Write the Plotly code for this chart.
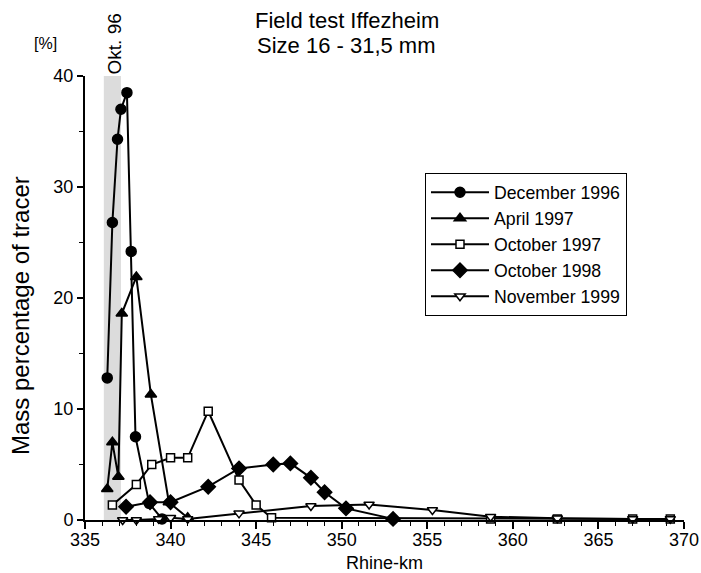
import plotly.graph_objects as go

# ---- data ----
dec96_km = [336.3, 336.6, 336.9, 337.1, 337.45, 337.7, 337.95, 338.75, 339.5]
dec96_val = [12.8, 26.8, 34.3, 37.0, 38.5, 24.2, 7.5, 1.5, 0.1]

apr97_km = [336.3, 336.6, 336.95, 337.15, 338.0, 338.85, 339.9, 341.0]
apr97_val = [2.8, 7.0, 3.9, 18.6, 21.9, 11.3, 1.6, 0.2]

oct97_km = [336.6, 338.0, 338.9, 340.0, 341.0, 342.2, 344.0, 345.0, 345.9, 358.7, 362.6, 367.0, 369.2]
oct97_val = [1.35, 3.2, 5.0, 5.6, 5.6, 9.8, 3.6, 1.35, 0.2, 0.1, 0.1, 0.1, 0.1]

oct98_km = [337.4, 338.8, 340.0, 342.2, 344.0, 346.0, 347.0, 348.2, 349.0, 350.25, 353.0]
oct98_val = [1.2, 1.6, 1.6, 3.0, 4.65, 5.0, 5.1, 3.8, 2.5, 1.05, 0.1]

nov99_km = [337.2, 338.0, 339.3, 340.0, 341.0, 344.0, 348.2, 351.6, 355.3, 358.7, 362.6, 367.0, 369.2]
nov99_val = [0.0, 0.0, 0.1, 0.2, 0.1, 0.6, 1.26, 1.4, 0.9, 0.3, 0.15, 0.1, 0.1]

series = [
    ("December 1996", dec96_km, dec96_val, "circle", "black", 10),
    ("April 1997", apr97_km, apr97_val, "triangle-up", "black", 10),
    ("October 1997", oct97_km, oct97_val, "square", "white", 8),
    ("October 1998", oct98_km, oct98_val, "diamond", "black", 11),
    ("November 1999", nov99_km, nov99_val, "triangle-down", "white", 9),
]

band_km = [336.1, 337.1]
title_lines = ["Field test Iffezheim", "Size 16 - 31,5 mm"]

fig = go.Figure()

# shaded "Okt. 96" band
fig.add_shape(type="rect", xref="x", yref="y", x0=band_km[0], x1=band_km[1],
              y0=0, y1=40, fillcolor="#dcdcdc", line_width=0, layer="below")

for name, xs, ys, sym, fill, size in series:
    fig.add_trace(go.Scatter(
        x=xs, y=ys, name=name, mode="lines+markers",
        line=dict(color="black", width=2),
        marker=dict(symbol=sym, size=size, color=fill,
                    line=dict(color="black", width=1.5)),
        cliponaxis=False,
    ))

# title (two lines)
fig.add_annotation(x=0.437, y=1.124, xref="paper", yref="paper", text=title_lines[0],
                   showarrow=False, xanchor="center", yanchor="middle",
                   font=dict(size=22, color="black"))
fig.add_annotation(x=0.437, y=1.068, xref="paper", yref="paper", text=title_lines[1],
                   showarrow=False, xanchor="center", yanchor="middle",
                   font=dict(size=22, color="black"))

# axis titles
fig.add_annotation(x=-0.108, y=0.46, xref="paper", yref="paper",
                   text="Mass percentage of tracer", textangle=-90, showarrow=False,
                   xanchor="center", yanchor="middle", font=dict(size=24, color="black"))
fig.add_annotation(x=0.5, y=-0.0968, xref="paper", yref="paper",
                   text="Rhine-km", showarrow=False,
                   xanchor="center", yanchor="middle", font=dict(size=18, color="black"))

fig.add_annotation(x=336.75, y=1.0, xref="x", yref="paper",
                   text="Okt. 96", textangle=-90, showarrow=False,
                   xanchor="center", yanchor="bottom", yshift=0,
                   font=dict(size=19, color="black"))
fig.add_annotation(x=0, y=1.0, xref="paper", yref="paper", text="[%]",
                   showarrow=False, xanchor="right", yanchor="bottom",
                   xshift=-26, yshift=22, font=dict(size=16, color="black"))

fig.update_layout(
    width=701, height=573,
    margin=dict(l=85, r=17, t=76, b=53),
    paper_bgcolor="white", plot_bgcolor="white",
    font=dict(family="Liberation Sans, Arial, sans-serif", color="black", size=15),
    showlegend=True,
    legend=dict(x=0.5676, y=0.781, xanchor="left", yanchor="top",
                bordercolor="black", borderwidth=1, bgcolor="white",
                font=dict(size=17.7), tracegroupgap=0, itemwidth=58),
    xaxis=dict(range=[335, 370], tickmode="linear", tick0=335, dtick=5,
               showline=True, linecolor="black", linewidth=2, ticks="outside",
               ticklen=7, tickwidth=2, tickcolor="black", showgrid=False, zeroline=False,
               automargin=False, ticklabelstandoff=-5,
               minor=dict(dtick=1, ticks="outside", ticklen=4, tickcolor="black", tickwidth=1),
               tickfont=dict(size=18)),
    yaxis=dict(range=[0, 40], tickmode="linear", tick0=0, dtick=10,
               showline=True, linecolor="black", linewidth=2, ticks="outside",
               ticklen=6, tickwidth=2, tickcolor="black", showgrid=False, zeroline=False,
               automargin=False,
               minor=dict(dtick=5, ticks="outside", ticklen=4, tickcolor="black", tickwidth=1),
               tickfont=dict(size=18)),
)

fig.write_html("out.html", config={"displayModeBar": False},
               post_script="document.body.style.margin='0';")
